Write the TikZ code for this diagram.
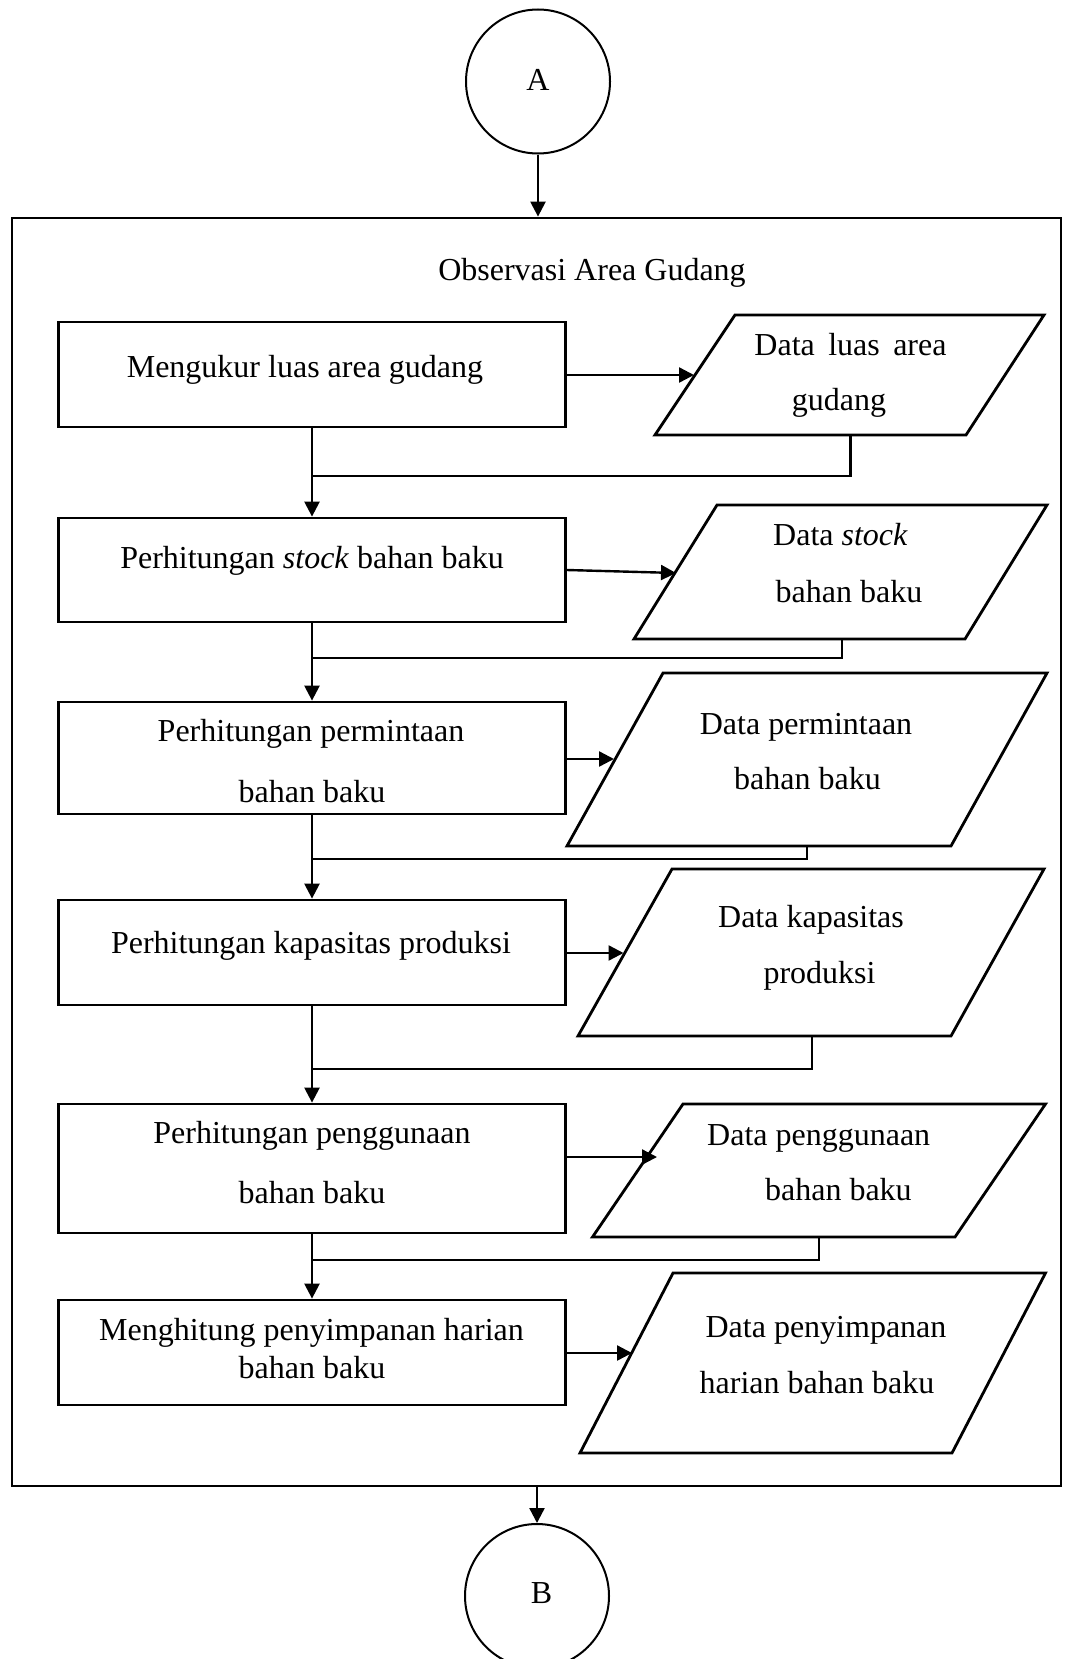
\documentclass[tikz,border=0pt]{standalone}
\usepackage{fontspec}
\setmainfont{Liberation Serif}
\usetikzlibrary{arrows.meta}
\begin{document}
\begin{tikzpicture}[x=1pt,y=-1pt,
  font=\fontsize{32}{38}\selectfont,
  procbox/.style={draw,line width=2.8pt,minimum width=507pt,inner sep=0pt},
  lbl/.style={anchor=base,inner sep=0pt},
  conn/.style={line width=2.4pt},
  thinline/.style={line width=1.2pt},
  arr/.style={conn,-{Triangle[length=15pt,width=15pt]}},
  iobox/.style={line width=2.8pt,line join=miter},
  conncirc/.style={draw,circle,line width=2pt,minimum size=144pt,inner sep=0pt}]
\useasboundingbox (0,0) rectangle (1068,1659);

% connectors (off-page)
\node[conncirc] (A) at (538,81.5) {\raisebox{4pt}{A}};
\node[conncirc] (B) at (537,1596) {\hspace*{9pt}\raisebox{5pt}{B}};

% container
\node[draw,line width=2.8pt,minimum width=1049pt,minimum height=1268pt,inner sep=0pt] (box) at (536.5,852) {};
\node[lbl] (title) at (592,280) {Observasi Area Gudang};

% process boxes
\node[procbox,minimum height=105pt] (r1) at (312,374.5) {};
\node[procbox,minimum height=104pt] (r2) at (312,570) {};
\node[procbox,minimum height=112pt] (r3) at (312,758) {};
\node[procbox,minimum height=105pt] (r4) at (312,952.5) {};
\node[procbox,minimum height=129pt] (r5) at (312,1168.5) {};
\node[procbox,minimum height=105pt] (r6) at (312,1352.5) {};

\node[lbl] (t1) at (305,377) {Mengukur luas area gudang};
\node[lbl] (t2) at (312,568) {Perhitungan \textit{stock} bahan baku};
\node[lbl] (t3a) at (311,741) {Perhitungan permintaan};
\node[lbl] (t3b) at (312,802) {bahan baku};
\node[lbl] (t4) at (311,953) {Perhitungan kapasitas produksi};
\node[lbl] (t5a) at (312,1143) {Perhitungan penggunaan};
\node[lbl] (t5b) at (312,1203) {bahan baku};
\node[lbl] (t6a) at (311.5,1340) {Menghitung penyimpanan harian};
\node[lbl] (t6b) at (312,1378) {bahan baku};

% data (input/output) parallelograms
\coordinate (p1tl) at (735,315);  \coordinate (p1tr) at (1044,315);
\coordinate (p1br) at (966,435);  \coordinate (p1bl) at (655,435);
\coordinate (p2tl) at (717,505);  \coordinate (p2tr) at (1047,505);
\coordinate (p2br) at (965,639);  \coordinate (p2bl) at (634,639);
\coordinate (p3tl) at (663,673);  \coordinate (p3tr) at (1047,673);
\coordinate (p3br) at (951,846);  \coordinate (p3bl) at (567,846);
\coordinate (p4tl) at (672,869);  \coordinate (p4tr) at (1044,869);
\coordinate (p4br) at (951,1036); \coordinate (p4bl) at (578,1036);
\coordinate (p5tl) at (683,1104); \coordinate (p5tr) at (1045.5,1104);
\coordinate (p5br) at (955,1237); \coordinate (p5bl) at (592.5,1237);
\coordinate (p6tl) at (673,1273); \coordinate (p6tr) at (1045.5,1273);
\coordinate (p6br) at (952,1453); \coordinate (p6bl) at (580,1453);
\foreach \i in {1,...,6}
  \draw[iobox] (p\i tl) -- (p\i tr) -- (p\i br) -- (p\i bl) -- cycle;

\node[lbl] (d1a) at (850.5,355) {Data\hspace{0.42em}luas\hspace{0.42em}area};
\node[lbl] (d1b) at (839,410) {gudang};
\node[lbl] (d2a) at (840.5,545) {Data \textit{stock}};
\node[lbl] (d2b) at (849,602) {bahan baku};
\node[lbl] (d3a) at (806,734) {Data permintaan};
\node[lbl] (d3b) at (807.5,789) {bahan baku};
\node[lbl] (d4a) at (811,927) {Data kapasitas};
\node[lbl] (d4b) at (819.5,983) {produksi};
\node[lbl] (d5a) at (818.7,1145) {Data penggunaan};
\node[lbl] (d5b) at (838.4,1200) {bahan baku};
\node[lbl] (d6a) at (826,1337) {Data penyimpanan};
\node[lbl] (d6b) at (817,1393) {harian bahan baku};

% arrow targets on data shapes and outputs
\coordinate (a1) at (694,375);
\coordinate (a2) at (676,573);
\coordinate (a3) at (614,759);
\coordinate (a4) at (623.5,953);
\coordinate (a5) at (657,1157);
\coordinate (a6) at (632,1353);
\coordinate (p1out) at (850.6,435);
\coordinate (p2out) at (842,639);
\coordinate (p3out) at (807,846);
\coordinate (p4out) at (812,1036);
\coordinate (p5out) at (818.7,1237);
\coordinate (j1) at (312,476);
\coordinate (j2) at (312,658);
\coordinate (j3) at (312,859);
\coordinate (j4) at (312,1069);
\coordinate (j5) at (312,1260);

% flow
\draw[arr] (A.south) -- (A.south |- box.north);
\draw[arr] (B.north |- box.south) -- (B.north);

\draw[arr] (r1.east |- a1) -- (a1);
\draw[arr] (r2.east) -- (a2);
\draw[arr] (r3.east |- a3) -- (a3);
\draw[arr] (r4.east |- a4) -- (a4);
\draw[arr] (r5.east |- a5) -- (a5);
\draw[arr] (r6.east |- a6) -- (a6);

\draw[arr] (r1.south) -- (r2.north);
\draw[conn] (p1out) |- (j1);
\draw[arr] (r2.south) -- (r3.north);
\draw[conn] (p2out) |- (j2);
\draw[arr] (r3.south) -- (r4.north);
\draw[thinline] (p3out) |- (j3);
\draw[thinline] (r4.south) -- (j4);
\draw[arr] (j4) -- (r5.north);
\draw[conn] (p4out) |- (j4);
\draw[arr] (r5.south) -- (r6.north);
\draw[conn] (p5out) |- (j5);
\end{tikzpicture}
\end{document}
